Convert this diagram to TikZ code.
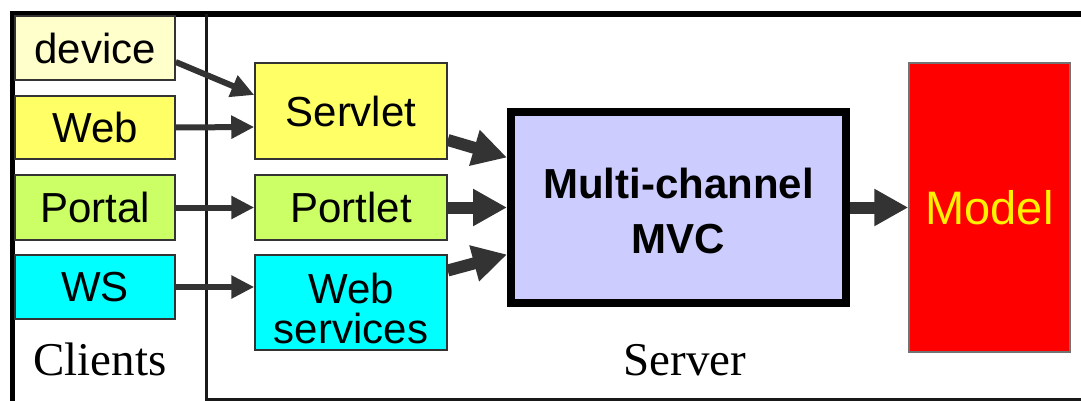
\documentclass[tikz,border=0pt]{standalone}
\usepackage{fontspec}
\setmainfont{Liberation Serif}
\setsansfont{Liberation Sans}
\usetikzlibrary{arrows.meta}
\definecolor{arrowgray}{HTML}{333333}
\definecolor{boxline}{HTML}{333333}
\definecolor{paleyellow}{HTML}{FFFFCC}
\definecolor{brightyellow}{HTML}{FFFF66}
\definecolor{limegreen}{HTML}{CCFF66}
\definecolor{cyanbox}{HTML}{00FFFF}
\definecolor{lavender}{HTML}{CCCCFF}
\begin{document}
\begin{tikzpicture}[x=1pt,y=-1pt,
  boxfont/.style={font=\sffamily\fontsize{42}{40}\selectfont},
  box/.style={draw=boxline, line width=1.5pt, inner sep=0pt, align=center, boxfont},
  clientbox/.style={box, minimum width=160pt, minimum height=63pt},
  channelbox/.style={box, minimum width=192pt},
  thinarrow/.style={draw=arrowgray, line width=6pt,
    -{Triangle[length=23pt,width=22pt,fill=arrowgray]}},
  thickarrow/.style={draw=arrowgray, line width=12pt,
    -{Triangle[length=34pt,width=35pt,fill=arrowgray]}},
  caption/.style={anchor=base, font=\fontsize{47}{50}\selectfont}
]
\useasboundingbox (0,0) rectangle (1081,401);

% frame of the two areas
\draw[line width=6pt] (10,14) -- (1081,14);
\draw[line width=5pt] (12.5,11) -- (12.5,401);
\draw[line width=3pt, draw=black!90] (206.5,14) -- (206.5,399.5) -- (1081,399.5);

% clients
\node[clientbox, fill=paleyellow,   minimum height=64pt] (dev) at (95,48)    {device};
\node[clientbox, fill=brightyellow] (web) at (95,127.5)  {Web};
\node[clientbox, fill=limegreen,    minimum height=65pt] (por) at (95,207.5) {Portal};
\node[clientbox, fill=cyanbox,      minimum height=64pt] (ws)  at (95,287)   {WS};
\node[caption] (clients) at (100,375) {Clients};

% server-side channels
\node[channelbox, fill=brightyellow, minimum height=96pt] (srv) at (351,111)   {Servlet};
\node[channelbox, fill=limegreen,    minimum height=65pt] (plt) at (351,207.5) {Portlet};
\node[channelbox, fill=cyanbox,      minimum height=95pt] (wsv) at (351,302.5) {};
\node[boxfont, align=center, inner sep=0pt] (wsvtext) at (351,308) {Web\\services};

% controller and model
\node[draw=black, line width=8pt, fill=lavender, inner sep=0pt,
      minimum width=335pt, minimum height=191pt] (mvc) at (678.5,207.5) {};
\node[align=center, inner sep=0pt,
      font=\sffamily\bfseries\fontsize{42}{55}\selectfont] (mvctext) at (678.5,211)
      {Multi-channel\\MVC};
\node[draw=black!55, line width=1.5pt, fill=red, inner sep=0pt,
      minimum width=161pt, minimum height=289pt, text=yellow,
      font=\sffamily\fontsize{47}{50}\selectfont] (model) at (989.5,207.5) {Model};
\node[caption] (server) at (685,375) {Server};

% client to channel connectors
\draw[thinarrow] ([yshift=-14pt]dev.east) -- ([yshift=16pt]srv.west);
\draw[thinarrow] (web.east) -- ([yshift=-16pt]srv.west);
\draw[thinarrow] (por.east) -- (plt.west);
\draw[thinarrow] (ws.east) -- ([yshift=15.5pt]wsv.west);

% channel to controller connectors
\draw[thickarrow] ([yshift=-29pt]srv.east) -- ([yshift=50pt]mvc.west);
\draw[thickarrow] (plt.east) -- (mvc.west);
\draw[thickarrow] ([yshift=32pt]wsv.east) -- ([yshift=-47pt]mvc.west);

% controller to model
\draw[thickarrow] (mvc.east) -- (model.west);
\end{tikzpicture}
\end{document}
